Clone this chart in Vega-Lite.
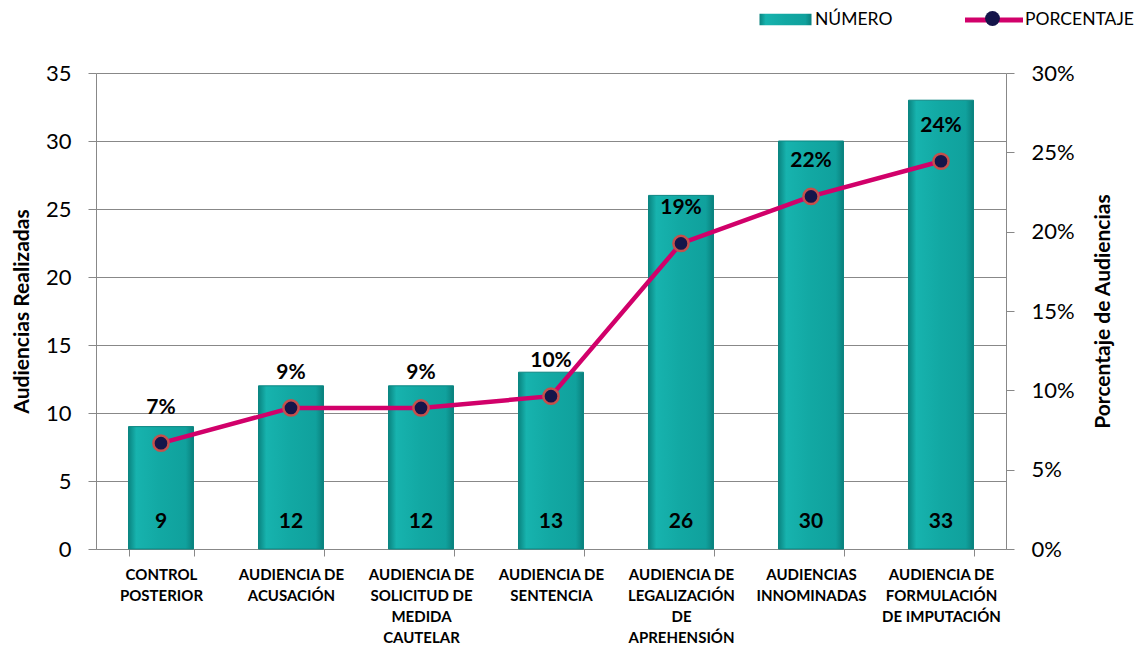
{
  "$schema": "https://vega.github.io/schema/vega-lite/v6.json",
  "width": 910,
  "height": 476,
  "autosize": {"type": "none"},
  "padding": {"left": 96, "top": 73, "right": 134, "bottom": 103},
  "background": "white",
  "config": {
    "font": "Lato",
    "view": {"stroke": null},
    "axis": {"labelFont": "Lato", "titleFont": "Lato"}
  },
  "data": {
    "values": [
      {"cat": "CONTROL|POSTERIOR", "n": 9, "pct": 0.0667},
      {"cat": "AUDIENCIA DE|ACUSACIÓN", "n": 12, "pct": 0.0889},
      {"cat": "AUDIENCIA DE|SOLICITUD DE|MEDIDA|CAUTELAR", "n": 12, "pct": 0.0889},
      {"cat": "AUDIENCIA DE|SENTENCIA", "n": 13, "pct": 0.0963},
      {"cat": "AUDIENCIA DE|LEGALIZACIÓN|DE|APREHENSIÓN", "n": 26, "pct": 0.1926},
      {"cat": "AUDIENCIAS|INNOMINADAS", "n": 30, "pct": 0.2222},
      {"cat": "AUDIENCIA DE|FORMULACIÓN|DE IMPUTACIÓN", "n": 33, "pct": 0.2444}
    ]
  },
  "encoding": {
    "x": {
      "field": "cat",
      "type": "nominal",
      "sort": null,
      "title": null,
      "scale": {"paddingInner": 0.5, "paddingOuter": 0.25},
      "axis": {
        "labelExpr": "split(datum.label, '|')",
        "labelAngle": 0,
        "labelFontWeight": "bold",
        "labelFontSize": 15,
        "labelColor": "#000000",
        "labelLineHeight": 21,
        "labelPadding": 11,
        "labelBaseline": "top",
        "labelLimit": 200,
        "domainColor": "#888888",
        "tickColor": "#888888",
        "tickBand": "extent",
        "tickSize": 7,
        "grid": false
      }
    }
  },
  "layer": [
    {
      "layer": [
        {
          "mark": {
            "type": "bar",
            "stroke": "#0A8682",
            "strokeWidth": 1,
            "fill": {"gradient": "linear", "x1": 0, "x2": 1, "y1": 0, "y2": 0, "stops": [
              {"offset": 0, "color": "#0A8480"},
              {"offset": 0.12, "color": "#17B3AE"},
              {"offset": 0.5, "color": "#12A8A3"},
              {"offset": 0.88, "color": "#10A19D"},
              {"offset": 1, "color": "#0A807C"}
            ]}
          },
          "encoding": {
            "y": {
              "field": "n",
              "type": "quantitative",
              "scale": {"domain": [0, 35], "nice": false},
              "axis": {
                "title": "Audiencias Realizadas",
                "titleFontSize": 21,
                "titleFontWeight": "bold",
                "titleColor": "#000000",
                "titlePadding": 13,
                "values": [0, 5, 10, 15, 20, 25, 30, 35],
                "labelFontSize": 22,
                "labelColor": "#000000",
                "labelPadding": 17,
                "domainColor": "#888888",
                "tickColor": "#888888",
                "tickSize": 8,
                "gridColor": "#888888",
                "gridWidth": 1
              }
            },
            "opacity": {
              "datum": "NÚMERO",
              "scale": {"domain": ["NÚMERO"], "range": [1]},
              "legend": {
                "orient": "none",
                "legendX": 676,
                "legendY": -67,
                "title": null,
                "symbolType": "M-2,-0.45H2V0.45H-2Z",
                "symbolSize": 676,
                "symbolFillColor": "#13A8A3",
                "symbolStrokeColor": "#0A8682",
                "symbolStrokeWidth": 1,
                "labelOffset": 16,
                "labelFontSize": 17.5,
                "labelFont": "Lato",
                "labelColor": "#000000"
              }
            }
          }
        },
        {
          "mark": {"type": "text", "fontWeight": "bold", "fontSize": 21, "color": "#000000", "dy": -27, "baseline": "middle"},
          "encoding": {
            "y": {"datum": 0},
            "text": {"field": "n", "type": "quantitative"}
          }
        }
      ]
    },
    {
      "layer": [
        {
          "mark": {"type": "line", "strokeWidth": 4.5},
          "encoding": {
            "y": {
              "field": "pct",
              "type": "quantitative",
              "scale": {"domain": [0, 0.3], "nice": false},
              "axis": {
                "orient": "right",
                "title": "Porcentaje de Audiencias",
                "titleAngle": -90,
                "titleFontSize": 21,
                "titleFontWeight": "bold",
                "titleColor": "#000000",
                "titlePadding": 39,
                "format": ".0%",
                "values": [0, 0.05, 0.1, 0.15, 0.2, 0.25, 0.3],
                "labelFontSize": 22,
                "labelColor": "#000000",
                "labelPadding": 17,
                "domainColor": "#888888",
                "tickColor": "#888888",
                "tickSize": 8,
                "grid": false
              }
            },
            "stroke": {
              "datum": "PORCENTAJE",
              "scale": {"domain": ["PORCENTAJE"], "range": ["#D1006A"]},
              "legend": {
                "orient": "none",
                "legendX": 881,
                "legendY": -70,
                "title": null,
                "symbolType": "M-2,0H2",
                "symbolSize": 841,
                "symbolStrokeWidth": 5,
                "labelOffset": 14,
                "labelFontSize": 17.5,
                "labelFont": "Lato",
                "labelColor": "#000000"
              }
            }
          }
        },
        {
          "mark": {"type": "point", "filled": true, "fill": "#15154A", "stroke": "#C4504C", "strokeWidth": 2.5, "opacity": 1, "size": 230},
          "encoding": {
            "y": {"field": "pct", "type": "quantitative"},
            "shape": {
              "datum": "marker",
              "scale": {"domain": ["marker"], "range": ["circle"]},
              "legend": {
                "orient": "none",
                "legendX": 888,
                "legendY": -63,
                "title": null,
                "symbolSize": 220,
                "symbolFillColor": "#15154A",
                "symbolStrokeColor": "#C4504C",
                "symbolStrokeWidth": 2,
                "labelExpr": "''",
                "labelFontSize": 16
              }
            }
          }
        },
        {
          "mark": {"type": "text", "fontWeight": "bold", "fontSize": 21, "color": "#000000", "dy": -35, "baseline": "middle"},
          "encoding": {
            "y": {"field": "pct", "type": "quantitative"},
            "text": {"field": "pct", "type": "quantitative", "format": ".0%"}
          }
        }
      ]
    }
  ],
  "resolve": {"scale": {"y": "independent"}}
}
